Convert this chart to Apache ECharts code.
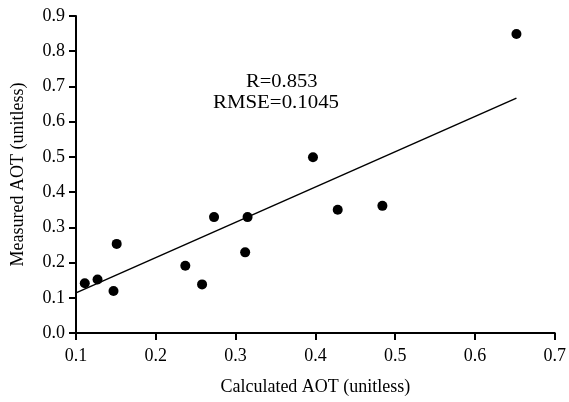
<!DOCTYPE html>
<html>
<head>
<meta charset="utf-8">
<script src="https://cdn.jsdelivr.net/npm/echarts@6/dist/echarts.min.js"></script>
<style>
html,body{margin:0;padding:0;background:#fff;}
#main{width:569px;height:402px;}
</style>
</head>
<body>
<div id="main"></div>
<script>
// measured vs calculated AOT
var calcAOT = [0.111, 0.127, 0.147, 0.151, 0.237, 0.258, 0.273, 0.312, 0.315, 0.397, 0.428, 0.484, 0.652];
var measAOT = [0.141, 0.152, 0.119, 0.253, 0.191, 0.138, 0.329, 0.229, 0.329, 0.499, 0.350, 0.361, 0.849];
var fitLine = [[0.1, 0.114], [0.652, 0.667]];
var statsText = ['R=0.853', 'RMSE=0.1045'];

var chart = echarts.init(document.getElementById('main'));
var font = '"Liberation Serif", "Times New Roman", serif';

var points = [];
for (var i = 0; i < calcAOT.length; i++) {
	points.push([calcAOT[i], measAOT[i]]);
}

var option = {
	animation: false,
	backgroundColor: '#fff',
	grid: {left: 76, right: 13, top: 16, bottom: 69},
	xAxis: {
		type: 'value',
		min: 0.1,
		max: 0.7,
		interval: 0.1,
		name: 'Calculated AOT (unitless)',
		nameLocation: 'middle',
		nameGap: 45,
		nameTextStyle: {fontFamily: font, fontSize: 18, color: '#000'},
		axisLine: {lineStyle: {color: '#000', width: 2}},
		axisTick: {inside: false, length: 7, lineStyle: {color: '#000', width: 2}},
		axisLabel: {fontFamily: font, fontSize: 18, color: '#000', margin: 14,
			formatter: function (v) { return v.toFixed(1); }},
		splitLine: {show: false}
	},
	yAxis: {
		type: 'value',
		min: 0,
		max: 0.9,
		interval: 0.1,
		name: 'Measured AOT (unitless)',
		nameLocation: 'middle',
		nameGap: 49,
		nameTextStyle: {fontFamily: font, fontSize: 18, color: '#000'},
		axisLine: {show: true, lineStyle: {color: '#000', width: 2}},
		axisTick: {show: true, length: 7, lineStyle: {color: '#000', width: 2}},
		axisLabel: {fontFamily: font, fontSize: 18, color: '#000', margin: 11,
			formatter: function (v) { return v.toFixed(1); }},
		splitLine: {show: false}
	},
	graphic: [
		{type: 'text', x: 246, y: 73, scaleX: 1.14,
			style: {text: statsText[0], font: '18px ' + font, fill: '#000'}},
		{type: 'text', x: 213, y: 94, scaleX: 1.16,
			style: {text: statsText[1], font: '18px ' + font, fill: '#000'}}
	],
	series: [
		{
			type: 'scatter',
			data: points,
			symbolSize: 10,
			itemStyle: {color: '#000', opacity: 1}
		},
		{
			type: 'line',
			data: fitLine,
			symbol: 'none',
			lineStyle: {color: '#000', width: 1.5}
		}
	]
};
chart.setOption(option);
</script>
</body>
</html>
